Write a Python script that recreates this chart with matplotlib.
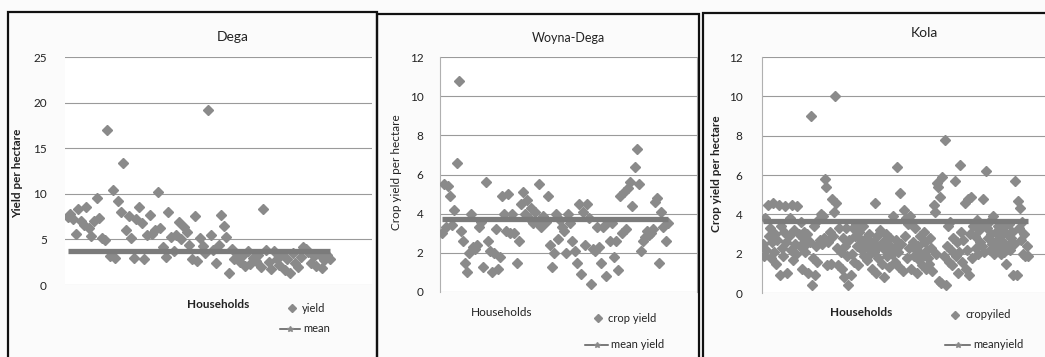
import matplotlib.pyplot as plt
from matplotlib.lines import Line2D
from matplotlib.patches import Rectangle

plt.rcParams['font.family'] = ['Lato', 'DejaVu Sans']

W, H = 1045, 357

# yield per hectare (left to right)
dega_yield = [7.5, 7.8, 7.2, 5.6, 8.3, 7.0, 6.6, 8.6, 6.2, 5.4, 7.0, 9.5, 7.4, 5.2, 4.9,
              17.0, 3.2, 10.4, 3.0, 9.2, 8.0, 13.4,
              6.0, 7.6, 5.1, 3.0, 7.2, 8.6, 6.8, 2.9, 5.5, 7.7, 5.6, 6.0, 10.2, 6.2,
              4.2, 3.1, 8.0, 5.3, 3.7, 5.5, 6.9, 5.0, 6.4, 5.8, 4.4, 2.8, 7.6, 2.6, 5.2, 4.3, 3.5,
              19.2,
              5.5, 3.8, 2.4, 4.4, 7.7, 6.5, 5.3, 1.3, 3.9, 2.8, 3.4, 2.5, 3.2, 2.1, 3.7, 2.3, 3.0, 2.6, 3.3, 2.0,
              8.3,
              3.8, 2.5, 1.8, 3.7, 2.9, 2.2, 3.4, 1.6, 2.8, 1.3, 3.5, 2.4, 2.0, 3.1, 4.2, 4.0, 3.6, 2.4,
              3.2, 2.1, 3.4, 1.9, 2.7, 3.3, 2.9]
dega_mean = 3.7

wd_yield = [3.0, 5.5, 3.3, 5.4, 4.9, 3.4, 4.2, 6.6, 10.8, 3.1, 2.6, 1.5, 1.0, 2.0, 4.0, 2.3,
            2.2, 2.4, 3.3, 3.6, 1.3, 5.6, 2.6, 2.1, 1.0, 2.0, 3.2, 1.2, 1.8, 4.9, 4.0, 3.1,
            5.0, 3.0, 4.0, 3.0, 1.5, 2.6, 4.5, 5.1, 4.0, 4.7, 3.8, 4.3, 3.5, 4.1, 3.6, 5.5,
            3.3, 3.9, 3.6, 4.9, 2.4, 1.3, 2.0, 4.0, 2.7, 3.7, 3.3, 3.1, 2.0, 4.0, 3.5, 2.6,
            2.1, 1.5, 4.5, 0.9, 4.1, 2.4, 4.5, 3.8, 0.4, 2.2, 2.1, 3.3, 2.3, 1.5, 3.3, 0.8,
            3.6, 2.6, 3.5, 1.8, 2.6, 1.1, 4.9, 3.0, 5.1, 3.2, 5.3, 5.6, 4.4, 6.4, 7.3, 5.5,
            2.1, 2.6, 2.8, 3.1, 2.9, 3.0, 3.2, 4.6, 4.8, 1.5, 4.1, 3.3, 2.6, 3.5]
wd_mean = 3.75

kola_yield = [2.5, 1.9, 3.8, 2.2, 4.5, 2.9, 3.3, 1.8, 2.6, 4.6, 2.1, 3.0, 1.5, 2.7, 4.5, 0.9, 3.4, 2.3, 1.9, 3.1,
              4.4, 2.6, 1.0, 2.9, 3.8, 2.2, 4.5, 1.7, 3.2, 2.5, 2.0, 4.4, 3.0, 2.4, 3.6, 1.2, 2.8, 3.1, 2.1, 2.5,
              3.0, 1.0, 2.6, 9.0, 0.4, 1.8, 3.4, 0.9, 2.4, 1.6, 3.7, 2.7, 4.0, 2.5, 3.9, 2.8, 5.8, 5.4, 1.4, 2.6,
              3.1, 1.5, 4.8, 2.9, 4.1, 10.0, 4.6, 2.3, 1.4, 3.3, 2.1, 1.2, 2.8, 0.8, 2.4, 3.3, 1.9, 0.4, 2.7, 0.9,
              2.0, 3.3, 1.6, 2.9, 3.5, 2.4, 1.4, 3.1, 2.7, 2.2, 3.4, 1.9, 2.5, 2.8, 1.7, 2.3, 3.0, 2.0, 1.2, 2.6,
              2.1, 4.6, 1.0, 2.9, 1.8, 2.4, 3.2, 1.5, 2.6, 0.8, 2.2, 3.0, 1.9, 2.5, 1.3, 2.8, 2.0, 3.9, 2.3, 1.6,
              2.7, 6.4, 2.1, 1.3, 5.1, 2.5, 1.1, 4.2, 2.9, 3.8, 1.8, 3.5, 2.3, 3.9, 1.2, 2.6, 1.9, 3.3, 2.2, 1.0,
              2.4, 1.7, 2.9, 2.0, 1.4, 3.1, 2.6, 1.2, 2.2, 1.8, 1.5, 2.8, 2.3, 1.1, 4.5, 4.1, 2.0, 5.6, 5.4, 0.6,
              4.9, 0.5, 5.9, 1.9, 7.8, 0.4, 2.4, 3.4, 1.6, 3.6, 2.2, 1.4, 2.8, 5.7, 1.9, 2.6, 1.0, 2.1, 6.5, 3.1,
              1.6, 2.7, 4.6, 1.2, 2.2, 4.8, 0.9, 3.0, 4.9, 1.8, 3.4, 2.9, 2.3, 3.7, 2.0, 3.2, 2.6, 3.5, 2.4, 4.8,
              2.1, 6.2, 3.3, 2.8, 3.6, 2.2, 3.0, 2.5, 3.9, 2.0, 3.1, 2.7, 3.4, 2.3, 2.9, 2.0, 3.3, 2.6, 2.1, 1.5,
              3.0, 2.4, 3.5, 2.2, 2.8, 3.1, 0.9, 2.5, 5.7, 0.9, 4.7, 3.3, 4.3, 2.7, 3.6, 2.0, 3.0, 1.9, 2.4, 1.9]
kola_mean = 3.65


def fx(x):
    return x / W


def fy(y):
    return 1 - y / H


fig = plt.figure(figsize=(W / 100, H / 100), dpi=100)
fig.patch.set_facecolor('#fbfbfb')

PT = '#8a8a8a'
MEAN = '#7b7b7b'
TXT = '#222222'

panels = [
    # data, mean, (left, right, top, bottom), ymax, step, xstretch, ms, pad
    (dega_yield, dega_mean, (65, 372, 57, 285), 25, 5, 1.15, 5.5, 13),
    (wd_yield, wd_mean, (440, 697, 57, 292), 12, 2, 1.12, 5.0, 12),
    (kola_yield, kola_mean, (762, 1050, 57, 293), 12, 2, 1.08, 4.6, 14),
]

axes = []
for data, mean, (l, r, t, b), ymax, step, stretch, ms, pad in panels:
    ax = fig.add_axes([fx(l), fy(b), (r - l) / W, (b - t) / H])
    ax.set_facecolor('white')
    n = len(data)
    xs = list(range(n))
    ax.plot(xs, data, linestyle='none', marker='D', ms=ms, color=PT, mec=PT, zorder=3)
    ax.plot(xs, [mean] * n, color=MEAN, lw=3.8, solid_capstyle='butt', zorder=4)
    ax.set_xlim(-1, n * stretch)
    ax.set_ylim(0, ymax)
    ax.set_yticks(range(0, ymax + 1, step))
    ax.set_xticks([])
    ax.yaxis.grid(True, color='#9a9a9a', lw=0.8)
    ax.set_axisbelow(True)
    ax.tick_params(axis='y', length=0, pad=pad, labelsize=8.5, labelcolor=TXT)
    for s in ax.spines.values():
        s.set_visible(False)
    axes.append(ax)

# plot-area outlines on the two right panels
axes[1].spines['left'].set_visible(True)
axes[1].spines['right'].set_visible(True)
axes[2].spines['left'].set_visible(True)
for a in axes[1:]:
    for s in a.spines.values():
        s.set_color('#b0b0b0')
        s.set_linewidth(0.8)

# panel frames
for x0, x1, y0 in [(8, 377, 12), (377, 699, 14), (703, 1050, 13)]:
    fig.add_artist(Rectangle((fx(x0), fy(365)), (x1 - x0) / W, (365 - y0) / H,
                             transform=fig.transFigure, fill=False, ec='#111111', lw=1.6))

# titles
fig.text(fx(233), fy(37), 'Dega', ha='center', va='center', fontsize=10, color=TXT)
fig.text(fx(568), fy(38), 'Woyna-Dega', ha='center', va='center', fontsize=9, color=TXT)
fig.text(fx(924), fy(33), 'Kola', ha='center', va='center', fontsize=10, color=TXT)

# y labels
fig.text(fx(18), fy(173), 'Yield per hectare', rotation=90, ha='center', va='center',
         fontsize=8.5, fontweight='bold', color=TXT)
fig.text(fx(397), fy(172), 'Crop yield per hectare', rotation=90, ha='center', va='center',
         fontsize=8.5, color=TXT)
fig.text(fx(716), fy(174), 'Crop yield per hectare', rotation=90, ha='center', va='center',
         fontsize=8.5, fontweight='bold', color=TXT)

# x labels
fig.text(fx(218), fy(304), 'Households', ha='center', va='center', fontsize=8.5,
         fontweight='bold', color=TXT)
fig.text(fx(502), fy(313), 'Households', ha='center', va='center', fontsize=8.5, color=TXT)
fig.text(fx(861), fy(313), 'Households', ha='center', va='center', fontsize=8.5,
         fontweight='bold', color=TXT)

# hand-placed legends
legends = [
    ((292, 308), (280, 300, 329), 'yield', 'mean'),
    ((598, 318), (585, 608, 345), 'crop yield', 'mean yield'),
    ((955, 315), (945, 970, 345), 'cropyiled', 'meanyield'),
]
for (mx, my), (lx0, lx1, ly), lab1, lab2 in legends:
    fig.add_artist(Line2D([fx(mx)], [fy(my)], transform=fig.transFigure, marker='D',
                          ms=4, color=PT, linestyle='none'))
    fig.text(fx(mx + 10), fy(my), lab1, ha='left', va='center', fontsize=8, color=TXT)
    fig.add_artist(Line2D([fx(lx0), fx(lx1)], [fy(ly), fy(ly)], transform=fig.transFigure,
                          color='#555555', lw=1.1))
    fig.add_artist(Line2D([fx((lx0 + lx1) / 2)], [fy(ly)], transform=fig.transFigure,
                          marker='*', ms=4, color=PT, linestyle='none'))
    fig.text(fx(lx1 + 3), fy(ly), lab2, ha='left', va='center', fontsize=8, color=TXT)

fig.savefig('out.png', dpi=100, facecolor=fig.get_facecolor())
